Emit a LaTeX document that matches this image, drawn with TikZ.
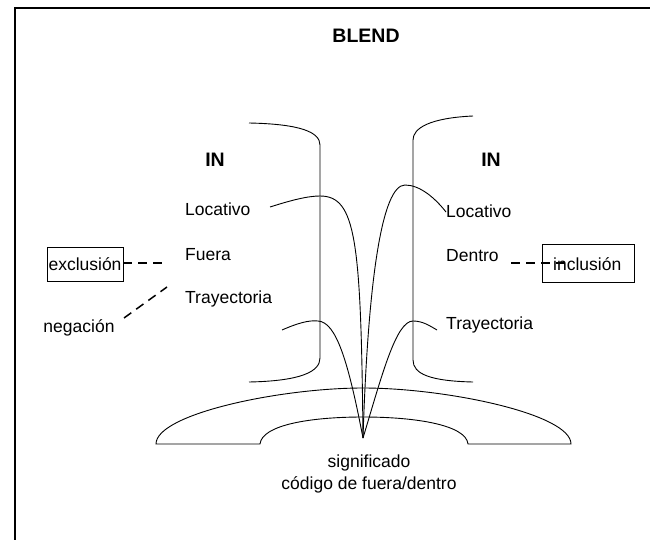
\documentclass[tikz,border=0pt]{standalone}
\usepackage{fontspec}
\setmainfont{Liberation Sans}
\begin{document}
\begin{tikzpicture}[x=1pt,y=-1pt,
  lbl/.style={font=\fontsize{17.5}{21}\selectfont, inner sep=0pt, anchor=west},
  ctr/.style={font=\fontsize{17.5}{21}\selectfont, inner sep=0pt},
  ttl/.style={font=\fontsize{19.5}{22}\selectfont\bfseries, inner sep=0pt},
  boxed/.style={draw, line width=0.8pt, minimum width=#1, minimum height=34pt, inner sep=0pt, font=\fontsize{17.5}{21}\selectfont},
  curve/.style={line width=0.9pt},
  dsh/.style={line width=1.5pt, dash pattern=on 9pt off 6pt}]
\useasboundingbox (0,0) rectangle (650,540);
% frame
\draw[line width=1.6pt] (15,540) -- (15,8) -- (650,8);
% title
\node[ttl] (blend) at (366,36) {BLEND};
\node[ttl] (inL) at (215,160) {IN};
\node[ttl] (inR) at (491,160) {IN};
% labels
\node[lbl] (locL) at (185,209) {Locativo};
\node[lbl] (fuera) at (185,255) {Fuera};
\node[lbl] (trayL) at (185,299) {Trayectoria};
\node[lbl] (locR) at (446,211) {Locativo};
\node[lbl] (dentro) at (446,256) {Dentro};
\node[lbl] (trayR) at (446,325) {Trayectoria};
% brackets
\draw[curve] (249,123) .. controls (300,124) and (320,132) .. (320,145) -- (320,358) .. controls (320,372) and (300,381) .. (249,382);
\draw[curve] (473,116) .. controls (430,118) and (413,128) .. (413,140) -- (413,360) .. controls (413,374) and (430,381) .. (473,382);
% vertex
\coordinate (v) at (363,438);
% curves
\draw[curve] (270,207) .. controls (292,200) and (308,196) .. (320,196) .. controls (356,196) and (361,240) .. (v);
\draw[curve] (282,330) .. controls (298,323) and (309,320) .. (318,321) .. controls (336,322) and (348,360) .. (v);
\draw[curve] (v) .. controls (368,280) and (382,185) .. (405,185) .. controls (420,185) and (435,198) .. (446,212);
\draw[curve] (v) .. controls (382,375) and (396,321) .. (413,321) .. controls (423,321) and (430,326) .. (437,330);
% arch
\draw[curve] (156,444) .. controls (156,414) and (280,388) .. (363,388) .. controls (446,388) and (571,414) .. (571,444) -- (468,444)
  .. controls (466,425) and (416,417) .. (363,417) .. controls (310,417) and (262,425) .. (260,444) -- cycle;
% bottom text
\node[ctr] (sig) at (369,463) {significado};
\node[ctr] (cod) at (369,485) {código de fuera/dentro};
% side boxes
\node[boxed=76pt] (excl) at (85,264.5) {exclusión};
\node[ctr] (neg) at (79,328) {negación};
\coordinate (negEnd) at (167,287);
\coordinate (exclEnd) at (163,263);
\draw[dsh] (excl.east |- 0,263) -- (exclEnd);
\draw[dsh] (124,318) -- (negEnd);
\coordinate (dEnd) at (511,263);
\node[boxed=92pt, minimum height=38pt] (incl) at (588,263) {};
\draw[dsh] (dEnd) -- (565,263);
\node[ctr, anchor=west] (incltxt) at (553,264) {inclusión};
\end{tikzpicture}
\end{document}
